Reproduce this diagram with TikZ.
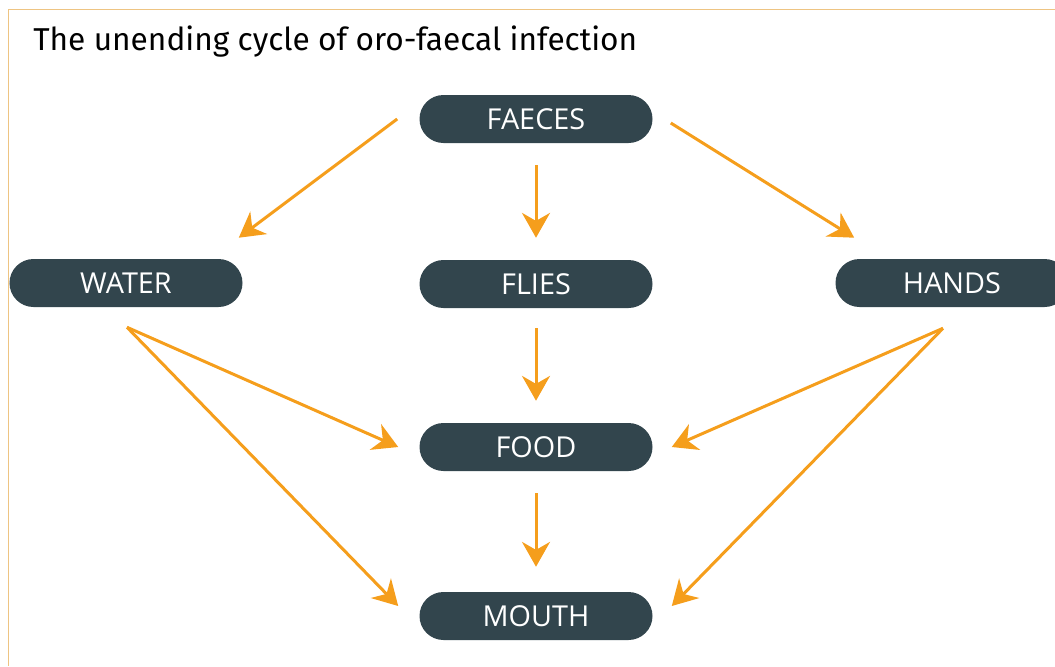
\documentclass[tikz,border=0pt]{standalone}
\usepackage{fontspec}
\usetikzlibrary{arrows.meta}
\newfontfamily\titlefont{Fira Sans}
\newfontfamily\boxfont{Open Sans}
\definecolor{slate}{RGB}{50,69,77}
\definecolor{flow}{RGB}{245,158,28}
\definecolor{frameline}{RGB}{238,196,130}
\begin{document}
\begin{tikzpicture}[
        every path/.style={line join=miter},
        stage/.style={fill=slate,text=white,rounded corners=0.6cm,minimum width=5.825cm,minimum height=1.2cm,inner sep=0pt,font=\boxfont\fontsize{20.5}{23}\selectfont},
        feed/.style={draw=flow,line width=0.075cm,-{Stealth[length=0.62cm,width=0.7cm,inset=0.2cm]}}
    ]
        \useasboundingbox (0,0) rectangle (26.375,-16.65);
        \draw [frameline,line width=0.025cm] (0.2,-16.65) -- (0.2,-0.225) -- (26.375,-0.225);

        \node [anchor=base west,font=\titlefont\fontsize{22.5}{27}\selectfont,inner sep=0pt] (title) at (0.825,-1.25) {The unending cycle of oro-faecal infection};

        \node [stage] (faeces) at (13.4,-2.975) {FAECES};
        \node [stage] (water) at (3.15,-7.075) {WATER};
        \node [stage] (flies) at (13.4,-7.1) {FLIES};
        \node [stage] (hands) at (23.8,-7.075) {HANDS};
        \node [stage] (food) at (13.4,-11.175) {FOOD};
        \node [stage] (mouth) at (13.4,-15.4) {MOUTH};

        % out of the faeces
        \draw [feed] ([xshift=-0.55cm]faeces.west) -- ([shift={(-0.1,0.525)}]water.north east);
        \draw [feed] ([yshift=-0.55cm]faeces.south) -- ([yshift=0.55cm]flies.north);
        \draw [feed] ([shift={(0.45,-0.1)}]faeces.east) -- ([shift={(0.475,0.525)}]hands.north west);

        % into food and mouth
        \draw [feed] ([yshift=-0.5cm]flies.south) -- ([yshift=0.55cm]food.north);
        \draw [feed] ([yshift=-0.55cm]food.south) -- ([yshift=0.625cm]mouth.north);
        \draw [feed] ([shift={(0.025,-0.5)}]water.south) -- ([xshift=-0.525cm]food.west);
        \draw [feed] ([shift={(0.025,-0.5)}]water.south) -- ([shift={(-0.525,0.25)}]mouth.west);
        \draw [feed] ([shift={(-0.225,-0.525)}]hands.south) -- ([xshift=0.475cm]food.east);
        \draw [feed] ([shift={(-0.225,-0.525)}]hands.south) -- ([shift={(0.475,0.25)}]mouth.east);
    \end{tikzpicture}
\end{document}
